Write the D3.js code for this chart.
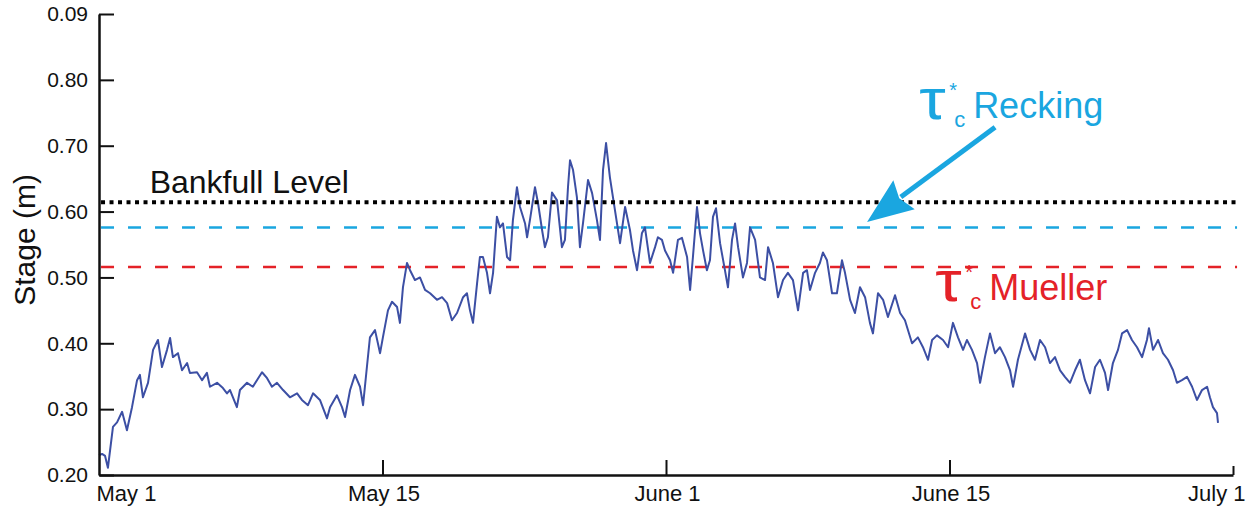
<!DOCTYPE html>
<html>
<head>
<meta charset="utf-8">
<script src="https://cdn.jsdelivr.net/npm/d3@7"></script>
<style>
  body { margin: 0; background: #fff; }
  text { font-family: "Liberation Sans", Arial, sans-serif; }
</style>
</head>
<body>
<div class="canvas"></div>
<script>
// Data: time in days since May 1, stage in metres

const days = [
  0.00,0.15,0.30,0.44,0.69,0.89,1.14,1.38,1.63,1.88,2.02,2.17,2.42,2.67,2.91,3.11,3.36,3.51,3.65,3.90,
  4.10,4.35,4.49,4.84,5.09,5.33,5.48,5.83,6.12,6.32,6.47,6.81,6.96,7.31,7.60,7.80,8.05,8.30,8.54,8.79,
  9.09,9.43,9.78,10.02,10.32,10.57,10.91,11.26,11.41,11.75,12.00,12.15,12.40,12.64,12.89,13.04,13.23,13.38,13.63,13.88,
  14.02,14.27,14.47,14.72,14.86,15.01,15.21,15.36,15.60,15.85,16.10,16.35,16.69,16.94,17.19,17.43,17.68,17.98,18.17,18.32,
  18.47,18.67,18.81,18.96,19.16,19.31,19.46,19.65,19.80,19.95,20.15,20.30,20.44,20.64,20.79,21.04,21.14,21.28,21.53,21.68,
  21.88,22.02,22.17,22.37,22.62,22.86,23.01,23.16,23.26,23.41,23.60,23.75,23.90,24.15,24.35,24.59,24.74,24.89,25.04,25.23,
  25.38,25.58,25.73,25.98,26.22,26.37,26.57,26.81,26.96,27.21,27.46,27.60,27.80,27.95,28.20,28.35,28.59,28.79,29.04,29.19,
  29.33,29.53,29.68,29.83,30.02,30.17,30.32,30.47,30.67,30.91,31.06,31.26,31.41,31.56,31.80,32.00,32.15,32.40,32.64,32.89,
  33.04,33.28,33.53,33.78,34.02,34.27,34.52,34.77,34.96,35.11,35.36,35.60,35.75,35.95,36.20,36.44,36.69,36.84,37.09,37.33,
  37.58,37.83,38.07,38.22,38.47,38.72,38.96,39.31,39.56,39.80,40.15,40.44,40.69,40.94,41.14,41.38,41.68,41.93,42.17,42.42,
  42.67,42.86,43.11,43.36,43.51,43.75,44.00,44.25,44.49,44.74,44.99,45.14,45.38,45.73,45.98,46.22,46.47,46.72,46.96,47.21,
  47.46,47.70,47.95,48.20,48.44,48.69,48.94,49.19,49.43,49.68,49.83,50.07,50.32,50.52,50.77,51.01,51.26,51.51,51.75,51.85,
  52.05,52.30,52.54,52.79,53.04,53.23,53.48,53.73,53.98,54.22,54.47,54.72,54.86,55.01,55.21,55.26
];

const stage = [
  0.230,0.232,0.229,0.211,0.273,0.280,0.296,0.268,0.303,0.344,0.352,0.318,0.340,0.390,0.405,0.364,0.390,0.408,0.379,0.385,
  0.359,0.370,0.355,0.356,0.344,0.355,0.334,0.340,0.332,0.324,0.329,0.303,0.329,0.340,0.334,0.344,0.356,0.347,0.334,0.340,
  0.329,0.318,0.324,0.314,0.306,0.324,0.314,0.286,0.303,0.321,0.303,0.288,0.329,0.352,0.334,0.306,0.364,0.409,0.420,0.385,
  0.409,0.450,0.463,0.455,0.431,0.485,0.522,0.511,0.496,0.500,0.481,0.476,0.466,0.470,0.461,0.435,0.446,0.470,0.476,0.450,
  0.431,0.491,0.531,0.531,0.507,0.476,0.507,0.592,0.576,0.582,0.531,0.526,0.587,0.637,0.607,0.582,0.561,0.587,0.637,0.613,
  0.572,0.546,0.561,0.629,0.617,0.546,0.557,0.637,0.678,0.663,0.622,0.546,0.582,0.648,0.628,0.587,0.557,0.663,0.704,0.652,
  0.622,0.582,0.552,0.607,0.572,0.541,0.511,0.567,0.576,0.522,0.546,0.561,0.557,0.541,0.526,0.507,0.557,0.560,0.531,0.481,
  0.531,0.607,0.567,0.541,0.511,0.526,0.592,0.605,0.552,0.511,0.485,0.557,0.582,0.546,0.500,0.522,0.576,0.557,0.500,0.496,
  0.546,0.522,0.470,0.496,0.507,0.496,0.450,0.507,0.511,0.481,0.507,0.522,0.538,0.526,0.476,0.476,0.526,0.507,0.466,0.446,
  0.485,0.470,0.431,0.415,0.476,0.466,0.440,0.473,0.446,0.435,0.400,0.409,0.394,0.375,0.405,0.412,0.405,0.394,0.431,0.409,
  0.390,0.405,0.390,0.370,0.340,0.379,0.415,0.385,0.394,0.379,0.359,0.334,0.375,0.415,0.390,0.375,0.405,0.394,0.370,0.379,
  0.359,0.349,0.340,0.359,0.375,0.344,0.324,0.364,0.375,0.355,0.329,0.370,0.390,0.415,0.420,0.405,0.394,0.379,0.405,0.423,
  0.390,0.405,0.385,0.375,0.359,0.340,0.344,0.349,0.334,0.314,0.329,0.334,0.318,0.303,0.294,0.279
];

// Axis ticks
const xTicks = [0, 14, 28, 42, 56];
const xTickLabels = ["May 1", "May 15", "June 1", "June 15", "July 1"];
const yTicks = [0.2, 0.3, 0.4, 0.5, 0.6, 0.7, 0.8, 0.9];
const yTickLabels = ["0.20", "0.30", "0.40", "0.50", "0.60", "0.70", "0.80", "0.09"];

// Reference levels (m)
const bankfullLevel = 0.614;
const reckingLevel = 0.576;
const muellerLevel = 0.516;

// Colours
const lineColor = "#3c4fa4";
const blue = "#1aa6e0";
const red = "#e42228";

// Set dimensions & margins
const W = 1253, H = 510;
const margin = { top: 14, right: 20, bottom: 35, left: 99 };

const x = d3.scaleLinear()
    .domain([0, 56])
    .range([margin.left, 1233]);

const y = d3.scaleLinear()
    .domain([0.2, 0.9])
    .range([H - margin.bottom, margin.top]);

const svg = d3.select(".canvas")
    .append("svg")
        .attr("width", W)
        .attr("height", H);

// Reference lines
function refLine(level, color, dash, sw) {
    svg.append("line")
        .attr("x1", x(0.1))
        .attr("x2", x(56.2))
        .attr("y1", y(level))
        .attr("y2", y(level))
        .attr("stroke", color)
        .attr("stroke-width", sw)
        .attr("stroke-dasharray", dash);
}
refLine(muellerLevel, red, "13,14", 2.5);
refLine(reckingLevel, blue, "13,14", 2.5);

// Stage line
const stageData = days.map((d, i) => ({ day: d, stage: stage[i] }));

const stageLine = d3.line()
    .x(d => x(d.day))
    .y(d => y(d.stage));

svg.append("path")
    .datum(stageData)
    .attr("fill", "none")
    .attr("stroke", lineColor)
    .attr("stroke-width", 2)
    .attr("stroke-linejoin", "round")
    .attr("d", stageLine);

refLine(bankfullLevel, "#000", "4,4.5", 4);

// x-axis
const xAxis = svg.append("g")
    .attr("transform", `translate(0,${y(0.2)})`)
    .call(d3.axisBottom(x)
        .tickValues(xTicks)
        .tickFormat((d, i) => xTickLabels[i])
        .tickSizeInner(-15)
        .tickSizeOuter(0)
        .tickPadding(9));
xAxis.select(".domain").attr("stroke-width", 2.5).attr("stroke", "#111");
xAxis.selectAll(".tick line").attr("stroke-width", 2).attr("stroke", "#111");
xAxis.selectAll(".tick").filter(d => d === 0).select("line").remove();
xAxis.selectAll(".tick").filter(d => d === 56).select("line").attr("y2", -9);
xAxis.selectAll(".tick text")
    .style("font-size", "22px")
    .attr("fill", "#111")
    .attr("dy", "0.75em")
    .attr("text-anchor", d => d === 0 ? "start" : (d === 56 ? "end" : "middle"))
    .attr("x", d => d === 0 ? -3 : (d === 56 ? 12 : 1));

// y-axis
const yAxis = svg.append("g")
    .attr("transform", `translate(${margin.left},0)`)
    .call(d3.axisLeft(y)
        .tickValues(yTicks)
        .tickFormat((d, i) => yTickLabels[i])
        .tickSizeInner(-15)
        .tickSizeOuter(0)
        .tickPadding(11));
yAxis.select(".domain").attr("stroke-width", 2.5).attr("stroke", "#111");
yAxis.selectAll(".tick line").attr("stroke-width", 2).attr("stroke", "#111");
yAxis.selectAll(".tick text")
    .style("font-size", "21px")
    .attr("fill", "#111");

// y-axis label
svg.append("text")
    .attr("transform", `translate(35,${y(0.557)}) rotate(-90)`)
    .attr("text-anchor", "middle")
    .style("font-size", "30px")
    .attr("fill", "#111")
    .text("Stage (m)");

// Bankfull label
svg.append("text")
    .attr("x", x(2.5))
    .attr("y", y(bankfullLevel) - 9)
    .style("font-size", "32px")
    .attr("fill", "#111")
    .text("Bankfull Level");

// tau*_c labels
function tauLabel(px, py, name, color) {
    const g = svg.append("g").attr("transform", `translate(${px},${py})`).attr("fill", color);
    g.append("text").attr("x", 0).attr("y", 0).style("font-size", "58px")
        .attr("transform", "scale(1.15,1)").text("τ");
    g.append("text").attr("x", 30).attr("y", -22).style("font-size", "20px").text("*");
    g.append("text").attr("x", 35).attr("y", 8).style("font-size", "22px").text("c");
    g.append("text").attr("x", 54).attr("y", -1).style("font-size", "36px").text(name);
}
tauLabel(x(40.5), y(0.74), "Recking", blue);
tauLabel(x(41.3), y(0.464), "Mueller", red);

// Arrow pointing to the Recking line
const arrowFrom = { day: 44.25, stage: 0.728 };
const arrowTo = { day: 37.93, stage: 0.584 };
const ax0 = x(arrowFrom.day), ay0 = y(arrowFrom.stage);
const ax1 = x(arrowTo.day), ay1 = y(arrowTo.stage);
const len = Math.hypot(ax0 - ax1, ay0 - ay1);
const ux = (ax0 - ax1) / len, uy = (ay0 - ay1) / len;
const headLen = 46, headHalf = 18;
const bx = ax1 + ux * headLen, by = ay1 + uy * headLen;

svg.append("line")
    .attr("x1", ax0).attr("y1", ay0)
    .attr("x2", bx - ux * 4).attr("y2", by - uy * 4)
    .attr("stroke", blue)
    .attr("stroke-width", 5);

svg.append("path")
    .attr("d", `M${ax1},${ay1} L${bx - uy * headHalf},${by + ux * headHalf} L${bx - ux * 6},${by - uy * 6} L${bx + uy * headHalf},${by - ux * headHalf} Z`)
    .attr("fill", blue);
</script>
</body>
</html>
